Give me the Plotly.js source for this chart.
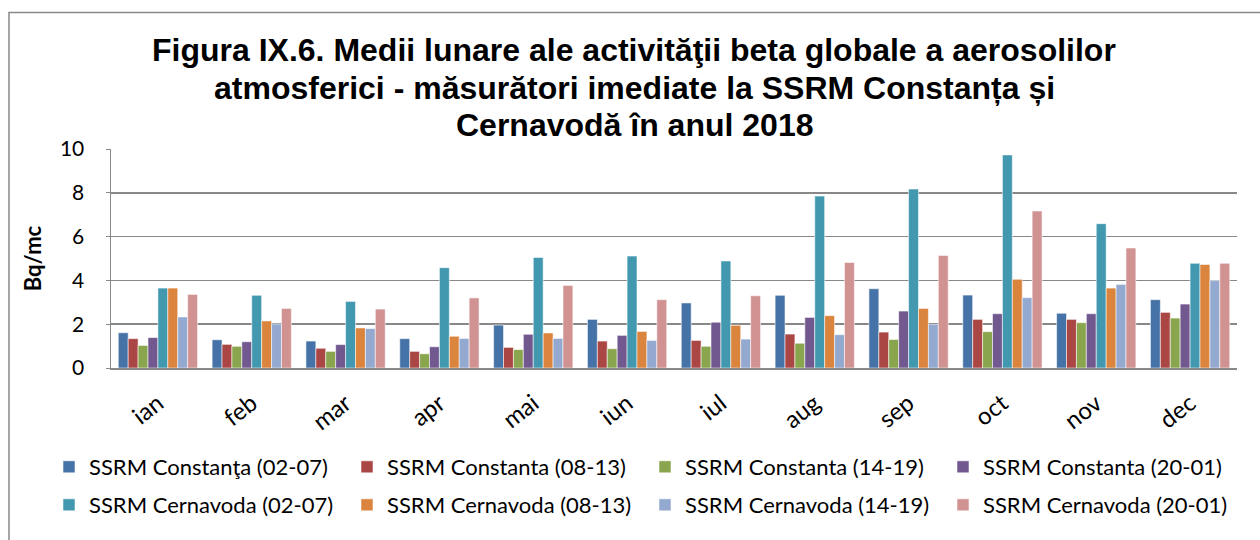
<!DOCTYPE html>
<html>
<head>
<meta charset="utf-8">
<script src="https://cdn.plot.ly/plotly-3.0.1.min.js"></script>
<style>html,body{margin:0;padding:0;background:#fff}#chart{width:1260px;height:540px}</style>
</head>
<body>
<div id="chart"></div>
<script>
const months = ["ian","feb","mar","apr","mai","iun","iul","aug","sep","oct","nov","dec"];
const seriesNames = [
  "SSRM Constanţa (02-07)","SSRM Constanta (08-13)","SSRM Constanta (14-19)","SSRM Constanta (20-01)",
  "SSRM Cernavoda (02-07)","SSRM Cernavoda (08-13)","SSRM Cernavoda (14-19)","SSRM Cernavoda (20-01)"
];
const titleLines = [
  "Figura IX.6. Medii lunare ale activităţii beta globale a aerosolilor",
  "atmosferici - măsurători imediate la SSRM Constanța și",
  "Cernavodă în anul 2018"
];
const yAxisTitle = "Bq/mc";
const constanta0207 = [1.61,1.29,1.23,1.34,1.96,2.22,2.97,3.32,3.62,3.33,2.50,3.12];
const constanta0813 = [1.34,1.08,0.90,0.76,0.94,1.23,1.26,1.55,1.64,2.22,2.22,2.54];
const constanta1419 = [1.03,0.99,0.76,0.65,0.84,0.88,0.99,1.13,1.30,1.66,2.07,2.28];
const constanta2001 = [1.39,1.20,1.07,0.97,1.54,1.49,2.09,2.31,2.60,2.48,2.48,2.92];
const cernavoda0207 = [3.65,3.32,3.04,4.58,5.05,5.11,4.89,7.85,8.17,9.73,6.59,4.78];
const cernavoda0813 = [3.65,2.15,1.83,1.45,1.60,1.67,1.95,2.39,2.72,4.05,3.65,4.73];
const cernavoda1419 = [2.33,2.01,1.80,1.35,1.35,1.26,1.32,1.52,1.99,3.21,3.82,3.99];
const cernavoda2001 = [3.36,2.72,2.69,3.20,3.77,3.12,3.30,4.82,5.14,7.17,5.48,4.78];
const yTicks = [0,2,4,6,8,10];

const allSeries = [constanta0207,constanta0813,constanta1419,constanta2001,cernavoda0207,cernavoda0813,cernavoda1419,cernavoda2001];
const colors = ["#4572A7","#AA4643","#89A54E","#71588F","#4198AF","#DB843D","#93A9CF","#D19392"];

const traces = allSeries.map((vals,i)=>({
  type:"bar", x:months, y:vals, name:seriesNames[i],
  marker:{color:colors[i], line:{color:"rgba(255,255,255,0.55)", width:1}},
  legend: i<4 ? "legend" : "legend2",
  hoverinfo:"y+name"
}));

const L=111, R=1237, T=149, B=368;
const W=R-L, H=B-T;
const px=(x)=>(x-L)/W, py=(y)=>(B-y)/H;

const calibriLike = "Lato, 'Liberation Sans', sans-serif";
const legendFont = {family:calibriLike, size:22, color:"#000"};
const titleFont = {family:"'Liberation Sans', Arial, sans-serif", size:32, color:"#000"};
const titleY = [50, 88, 125];

const layout = {
  width:1260, height:540,
  margin:{l:L, r:1260-R, t:T, b:540-B, pad:0},
  paper_bgcolor:"#fff", plot_bgcolor:"#fff",
  barmode:"group", bargap:0.155, bargroupgap:0,
  xaxis:{
    type:"category", showgrid:false, zeroline:false,
    showline:true, linecolor:"#888", linewidth:2,
    ticks:"", tickangle:-38, ticklabelstandoff:10,
    tickfont:{family:calibriLike, size:24, color:"#000"}
  },
  yaxis:{
    range:[0,10], tickvals:yTicks, ticktext:yTicks.map(String),
    showgrid:true, gridcolor:"#888", gridwidth:1.6,
    zeroline:false, showline:true, linecolor:"#888", linewidth:1.5,
    ticks:"outside", ticklen:4, tickcolor:"#888", ticklabelstandoff:17,
    tickfont:{family:calibriLike, size:21, color:"#000"},
    title:{text:"<b>"+yAxisTitle+"</b>", standoff:12, font:{family:calibriLike, size:22, color:"#000"}}
  },
  legend:{
    orientation:"h", x:px(49), xanchor:"left", y:py(467), yanchor:"middle",
    entrywidth:253, entrywidthmode:"pixels", font:legendFont, bgcolor:"rgba(0,0,0,0)", traceorder:"normal"
  },
  legend2:{
    orientation:"h", x:px(49), xanchor:"left", y:py(505), yanchor:"middle",
    entrywidth:253, entrywidthmode:"pixels", font:legendFont, bgcolor:"rgba(0,0,0,0)", traceorder:"normal"
  },
  annotations: titleLines.map((t,i)=>({
    text:"<b>"+t+"</b>", xref:"paper", yref:"paper",
    x:px(634), y:py(titleY[i]), xanchor:"center", yanchor:"middle",
    showarrow:false, font:titleFont
  })),
  shapes:[{
    type:"path", xref:"paper", yref:"paper",
    path:`M ${px(9)} ${py(560)} L ${px(9)} ${py(12.5)} L ${px(1275)} ${py(12.5)}`,
    line:{color:"#888", width:1.5}
  }],
  showlegend:true
};

Plotly.newPlot("chart", traces, layout, {displayModeBar:false, staticPlot:true});
</script>
</body>
</html>
